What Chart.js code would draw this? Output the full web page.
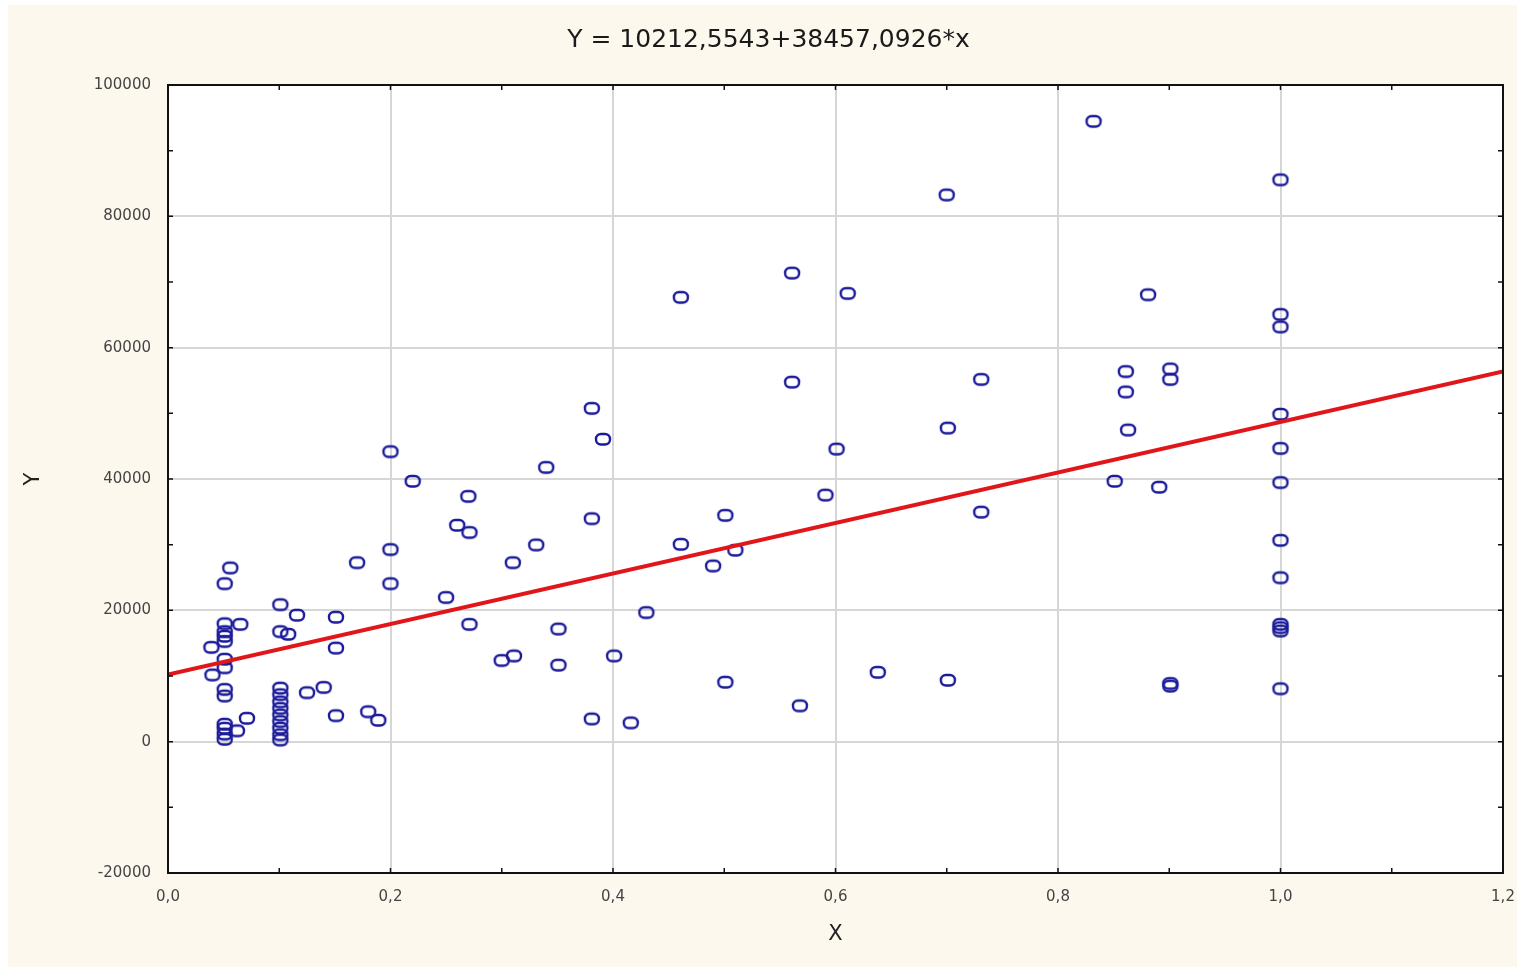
<!DOCTYPE html>
<html>
<head>
<meta charset="utf-8">
<script src="https://cdn.jsdelivr.net/npm/chart.js@4.4.0/dist/chart.umd.min.js"></script>
<style>
  html, body { margin: 0; padding: 0; background: #ffffff; }
  #wrap { width: 1525px; height: 972px; }
</style>
</head>
<body>
<div id="wrap"><canvas id="scatterChart" width="1525" height="972"></canvas></div>
<script>
const xValues = [
    0.056, 0.051, 0.051, 0.065, 0.051, 0.051, 0.051, 0.039, 0.051, 0.051,
    0.040, 0.051, 0.051, 0.071, 0.051, 0.051, 0.062, 0.051, 0.051,
    0.101, 0.116, 0.101, 0.108, 0.101, 0.101, 0.101, 0.101, 0.101, 0.101,
    0.101, 0.101, 0.101, 0.125, 0.140, 0.151, 0.151, 0.151, 0.170, 0.180,
    0.189, 0.200, 0.200, 0.200, 0.220, 0.250, 0.260, 0.271, 0.270, 0.271,
    0.300, 0.311, 0.310, 0.331, 0.340, 0.351, 0.351, 0.381, 0.391, 0.381,
    0.381, 0.401, 0.416, 0.430, 0.461, 0.461, 0.490, 0.501, 0.501, 0.510,
    0.561, 0.561, 0.568, 0.591, 0.601, 0.611, 0.638, 0.700, 0.701, 0.701,
    0.731, 0.731, 0.832, 0.851, 0.861, 0.861, 0.863, 0.881, 0.891, 0.901,
    0.901, 0.901, 0.901,
    1.0, 1.0, 1.0, 1.0, 1.0, 1.0, 1.0, 1.0, 1.0, 1.0, 1.0, 1.0
];
const yValues = [
    26500, 24100, 18000, 17900, 16800, 16100, 15300, 14400, 12600, 11300,
    10200, 8000, 7000, 3600, 2700, 2100, 1700, 1200, 400,
    20900, 19300, 16800, 16400, 8200, 7200, 6100, 5100, 4100, 3100,
    2100, 1100, 300, 7500, 8300, 19000, 14300, 4000, 27300, 4600,
    3300, 44200, 29300, 24100, 39700, 22000, 33000, 31900, 37400, 17900,
    12400, 13100, 27300, 30000, 41800, 17200, 11700, 50800, 46100, 34000,
    3500, 13100, 2900, 19700, 67700, 30100, 26800, 34500, 9100, 29200,
    71400, 54800, 5500, 37600, 44600, 68300, 10600, 83300, 47800, 9400,
    55200, 35000, 94500, 39700, 56400, 53300, 47500, 68100, 38800, 56800,
    55200, 8900, 8500,
    85600, 65100, 63200, 49900, 44700, 39500, 30700, 25000, 17900, 17400, 16900, 8100
];

// fitted line: Y = 10212,5543 + 38457,0926*x, ends of the x range
const fitX = [0.0, 1.2];
const fitY = [10212.55, 56361.07];

const chartTitle = 'Y = 10212,5543+38457,0926*x';
const xTicks = [0.0, 0.2, 0.4, 0.6, 0.8, 1.0, 1.2];
const yTicks = [-20000, 0, 20000, 40000, 60000, 80000, 100000];

// little rounded "o" marker like the original
function makeMarker() {
    const c = document.createElement('canvas');
    c.width = 20; c.height = 16;
    const g = c.getContext('2d');
    g.strokeStyle = '#1c1c9a';
    g.lineWidth = 2.4;
    g.beginPath();
    g.roundRect(3, 3, 14, 10.5, 5);
    g.stroke();
    return c;
}
const marker = makeMarker();

const backdrop = {
    id: 'backdrop',
    beforeDraw(chart) {
        const { ctx, chartArea: a } = chart;
        ctx.save();
        ctx.fillStyle = '#ffffff';
        ctx.fillRect(0, 0, chart.width, chart.height);
        ctx.fillStyle = '#fdf8ee';
        ctx.fillRect(8, 5, chart.width - 16, chart.height - 10);
        ctx.fillStyle = '#ffffff';
        ctx.fillRect(a.left, a.top, a.right - a.left, a.bottom - a.top);
        ctx.restore();
    },
    afterDatasetsDraw(chart) {
        // frame and inward tick marks
        const { ctx, chartArea: a, scales } = chart;
        ctx.save();
        ctx.strokeStyle = '#111111';
        ctx.lineWidth = 2;
        ctx.strokeRect(a.left, a.top, a.right - a.left, a.bottom - a.top);
        ctx.lineWidth = 1.5;
        ctx.beginPath();
        for (let v = 0; v <= 1.2001; v += 0.1) {
            const px = scales.x.getPixelForValue(v);
            ctx.moveTo(px, a.bottom); ctx.lineTo(px, a.bottom - 5);
            ctx.moveTo(px, a.top); ctx.lineTo(px, a.top + 5);
        }
        for (let v = -20000; v <= 100000; v += 10000) {
            const py = scales.y.getPixelForValue(v);
            ctx.moveTo(a.left, py); ctx.lineTo(a.left + 5, py);
            ctx.moveTo(a.right, py); ctx.lineTo(a.right - 5, py);
        }
        ctx.stroke();
        ctx.restore();
    }
};

const ctx = document.getElementById('scatterChart').getContext('2d');
new Chart(ctx, {
    type: 'scatter',
    data: {
        datasets: [
            {
                label: 'fit',
                type: 'line',
                data: fitX.map((x, i) => ({ x: x, y: fitY[i] })),
                borderColor: '#e0161a',
                borderWidth: 4,
                pointRadius: 0,
                fill: false,
                order: 1
            },
            {
                label: 'Y',
                data: xValues.map((x, i) => ({ x: x, y: yValues[i] })),
                pointStyle: marker,
                pointRadius: 7,
                order: 2
            }
        ]
    },
    options: {
        responsive: false,
        devicePixelRatio: 1,
        animation: false,
        layout: { padding: { left: 34, right: 22, top: 0, bottom: 5 } },
        plugins: {
            legend: { display: false },
            tooltip: { enabled: false },
            title: {
                display: true,
                text: chartTitle,
                color: '#1a1a1a',
                font: { family: 'DejaVu Sans', size: 25, weight: 'normal' },
                padding: { top: 25, bottom: 30 }
            }
        },
        scales: {
            x: {
                type: 'linear',
                min: 0, max: 1.2,
                afterBuildTicks: s => { s.ticks = xTicks.map(v => ({ value: v })); },
                afterFit: s => { s.height = 94; s.paddingLeft = 0; s.paddingRight = 0; },
                grid: { color: '#d6d6d6', lineWidth: 2, drawTicks: false },
                border: { display: false },
                ticks: {
                    color: '#444444',
                    padding: 15,
                    font: { family: 'DejaVu Sans', size: 15 },
                    callback: v => v.toFixed(1).replace('.', ',')
                },
                title: {
                    display: true,
                    text: 'X',
                    color: '#222222',
                    font: { family: 'DejaVu Sans', size: 21 },
                    padding: { top: 0, bottom: 20 }
                }
            },
            y: {
                type: 'linear',
                min: -20000, max: 100000,
                afterBuildTicks: s => { s.ticks = yTicks.map(v => ({ value: v })); },
                afterFit: s => { s.width = 134; s.paddingTop = 0; s.paddingBottom = 0; },
                grid: { color: '#d6d6d6', lineWidth: 2, drawTicks: false },
                border: { display: false },
                ticks: {
                    color: '#444444',
                    padding: 17,
                    font: { family: 'DejaVu Sans', size: 15 },
                    callback: v => String(v)
                },
                title: {
                    display: true,
                    text: 'Y',
                    color: '#222222',
                    font: { family: 'DejaVu Sans', size: 21 },
                    padding: { top: -13, bottom: 0 }
                }
            }
        }
    },
    plugins: [backdrop]
});
</script>
</body>
</html>
